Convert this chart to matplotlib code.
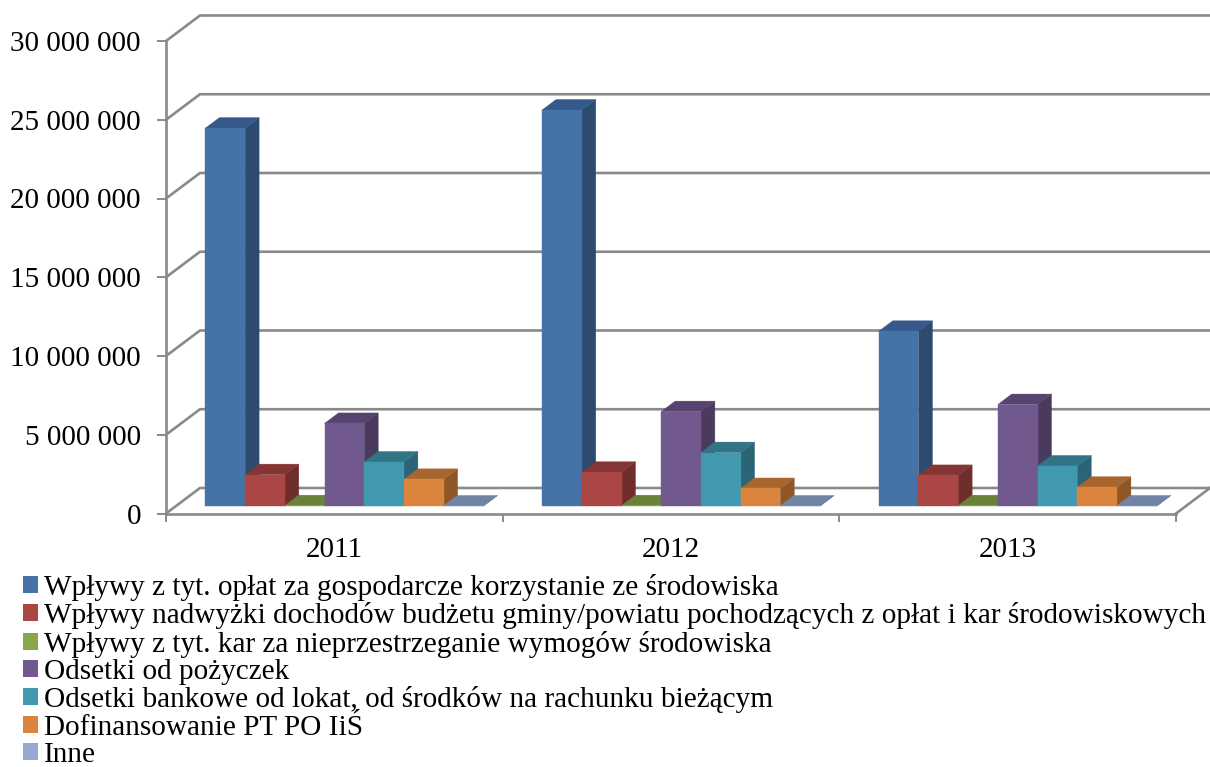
# -*- coding: utf-8 -*-
import matplotlib as mpl
import matplotlib.pyplot as plt
from matplotlib.patches import Polygon, Patch

mpl.rcParams['font.family'] = ['Liberation Serif', 'DejaVu Serif']
mpl.rcParams['font.size'] = 21

years = ['2011', '2012', '2013']
labels = ['Wpływy z tyt. opłat za gospodarcze korzystanie ze środowiska',
          'Wpływy nadwyżki dochodów budżetu gminy/powiatu pochodzących z opłat i kar środowiskowych',
          'Wpływy z tyt. kar za nieprzestrzeganie wymogów środowiska',
          'Odsetki od pożyczek',
          'Odsetki bankowe od lokat, od środków na rachunku bieżącym',
          'Dofinansowanie PT PO IiŚ',
          'Inne']
v_2011 = [24000000, 2000000, 30000, 5250000, 2800000, 1700000, 10000]
v_2012 = [25150000, 2150000, 30000, 6000000, 3400000, 1120000, 10000]
v_2013 = [11100000, 1950000, 30000, 6450000, 2550000, 1200000, 10000]
values = [v_2011, v_2012, v_2013]

y_ticks = [0, 5000000, 10000000, 15000000, 20000000, 25000000, 30000000]
y_labels = ['0', '5 000 000', '10 000 000', '15 000 000', '20 000 000', '25 000 000', '30 000 000']

front_col = ['#4572A7', '#AA4643', '#89A54E', '#71588F', '#4198AF', '#DB843D', '#93A9CF']
side_col = ['#2D4A70', '#6F2E2C', '#5A6D33', '#4A3A5E', '#2B6475', '#8F5728', '#607090']
top_col = ['#34598A', '#853533', '#6B8139', '#574370', '#317486', '#A8652E', '#7085A5']

GRID = '#8A8A8A'
DX = 34 / 336.7      # depth of the floor, in categories
DY = 1620000         # depth of the floor, in chart values
BAR_W = 39.7 / 336.7
GAP = 29.6 / 336.7
D0 = 0.29            # front of the bars, as a share of the floor depth
D1 = 0.70            # back of the bars


def proj(x, y, d):
    return (x + d * DX, y + d * DY)


def face(ax, pts, col):
    ax.add_patch(Polygon(pts, fc=col, ec=col, lw=0.3, clip_on=False, zorder=3))


def draw_bar(ax, x, h, i):
    a = proj(x, 0, D0)
    b = proj(x + BAR_W, 0, D0)
    c = proj(x + BAR_W, h, D0)
    d = proj(x, h, D0)
    e = proj(x + BAR_W, 0, D1)
    f = proj(x + BAR_W, h, D1)
    g = proj(x, h, D1)
    face(ax, [b, e, f, c], side_col[i])
    face(ax, [d, c, f, g], top_col[i])
    face(ax, [a, b, c, d], front_col[i])


fig = plt.figure(figsize=(12.1, 7.67), dpi=100)
ax = fig.add_axes([166 / 1210, 1 - 513.5 / 767, 1010 / 1210, 472.5 / 767])
ax.set_xlim(0, 3)
ax.set_ylim(0, 30000000)

# back wall and left wall lines
for t in y_ticks:
    ax.plot([0, DX, 3 + DX], [t, t + DY, t + DY], color=GRID, lw=1.9, clip_on=False,
            solid_joinstyle='miter', zorder=1)
ax.plot([3, 3 + DX], [0, DY], color=GRID, lw=1.9, clip_on=False, zorder=1)

for c in range(len(years)):
    for i in range(len(labels)):
        draw_bar(ax, c + GAP + i * BAR_W, values[c][i], i)

ax.set_yticks(y_ticks)
ax.set_yticklabels(y_labels)
ax.set_xticks([0, 1, 2, 3])
ax.set_xticklabels([])
ax.set_xticks([0.5, 1.5, 2.5], minor=True)
ax.set_xticklabels(years, minor=True)
ax.tick_params(axis='x', which='major', length=6, width=1.4, color=GRID)
ax.tick_params(axis='x', which='minor', length=0, pad=17)
ax.tick_params(axis='y', length=6.5, width=1.4, color=GRID, pad=11.5)
for s in ['top', 'right']:
    ax.spines[s].set_visible(False)
for s in ['left', 'bottom']:
    ax.spines[s].set_color(GRID)
    ax.spines[s].set_linewidth(1.9)
ax.patch.set_alpha(0)

handles = [Patch(fc=front_col[i], lw=0) for i in range(len(labels))]
fig.legend(handles, labels, loc='upper left', bbox_to_anchor=(23 / 1210, 1 - 574 / 767),
           frameon=False, labelspacing=0.045, handlelength=0.51, handleheight=0.51,
           handletextpad=0.22, borderpad=0, borderaxespad=0, fontsize=21.1)

fig.savefig('out.png', dpi=100)
